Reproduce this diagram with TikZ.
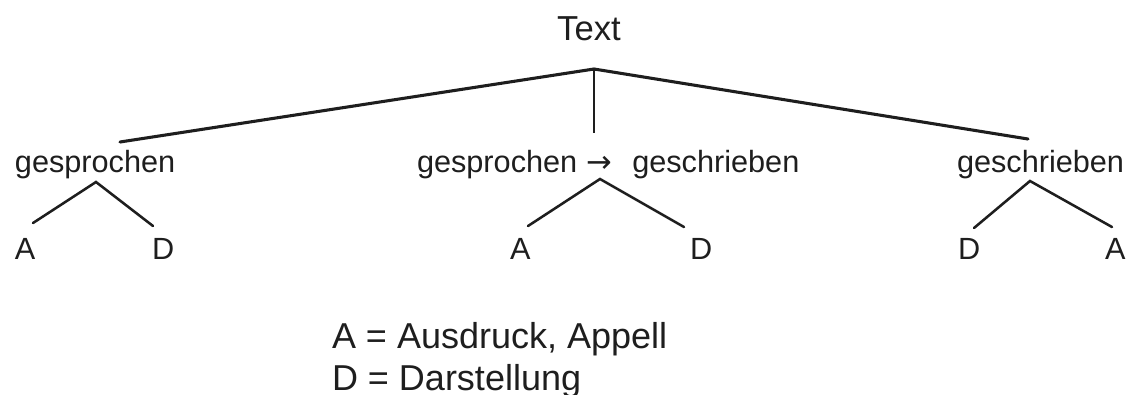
\documentclass[tikz,border=0pt]{standalone}
\usepackage{fontspec}
\setmainfont{Liberation Sans}
\newfontfamily\arrowfont{DejaVu Sans}
\definecolor{ink}{RGB}{30,30,30}
\begin{document}
\begin{tikzpicture}[x=0.75pt,y=-0.75pt,
  lbl/.style={inner sep=0pt,outer sep=0pt,anchor=base west,text=ink,font=\fontsize{23}{27}\selectfont},
  leg/.style={inner sep=0pt,outer sep=0pt,anchor=base west,text=ink,font=\fontsize{27}{32}\selectfont},
  main/.style={draw=ink,line width=2.3pt,line cap=round},
  sub/.style={draw=ink,line width=1.9pt,line cap=round},
  vert/.style={draw=ink,line width=1.5pt}]
\useasboundingbox (0,0) rectangle (1129,394);
% nodes
\node[inner sep=0pt,anchor=base,text=ink,font=\fontsize{26}{30}\selectfont] (text) at (589,40) {Text};
\node[lbl] (gl) at (15,172) {gesprochen};
\node[lbl] (gm) at (417,172) {gesprochen\hspace{7pt}{\arrowfont →}\hspace{15pt}geschrieben};
\node[lbl] (gr) at (957,172) {geschrieben};
\node[lbl] (lA) at (15,259) {A};
\node[lbl] (lD) at (152,259) {D};
\node[lbl] (mA) at (510,259) {A};
\node[lbl] (mD) at (690,259) {D};
\node[lbl] (rD) at (958,259) {D};
\node[lbl] (rA) at (1105,259) {A};
\node[leg] (legA) at (332,348) {A = Ausdruck, Appell};
\node[leg] (legD) at (332,390) {D = Darstellung};
% connector points
\coordinate (apex) at (594,69);
\coordinate (lend) at (120,142);
\coordinate (mend) at (594,133);
\coordinate (rend) at (1028,139);
\coordinate (la) at (96,182);
\coordinate (la1) at (33,223);
\coordinate (la2) at (153,226);
\coordinate (ma) at (600,179);
\coordinate (ma1) at (528,226);
\coordinate (ma2) at (684,227);
\coordinate (ra) at (1030,181);
\coordinate (ra1) at (974,228);
\coordinate (ra2) at (1112,227);
% connectors
\draw[main] (lend) -- (apex) -- (rend);
\draw[vert] (apex) -- (mend);
\draw[sub] (la1) -- (la) -- (la2);
\draw[sub] (ma1) -- (ma) -- (ma2);
\draw[sub] (ra1) -- (ra) -- (ra2);
\end{tikzpicture}
\end{document}
